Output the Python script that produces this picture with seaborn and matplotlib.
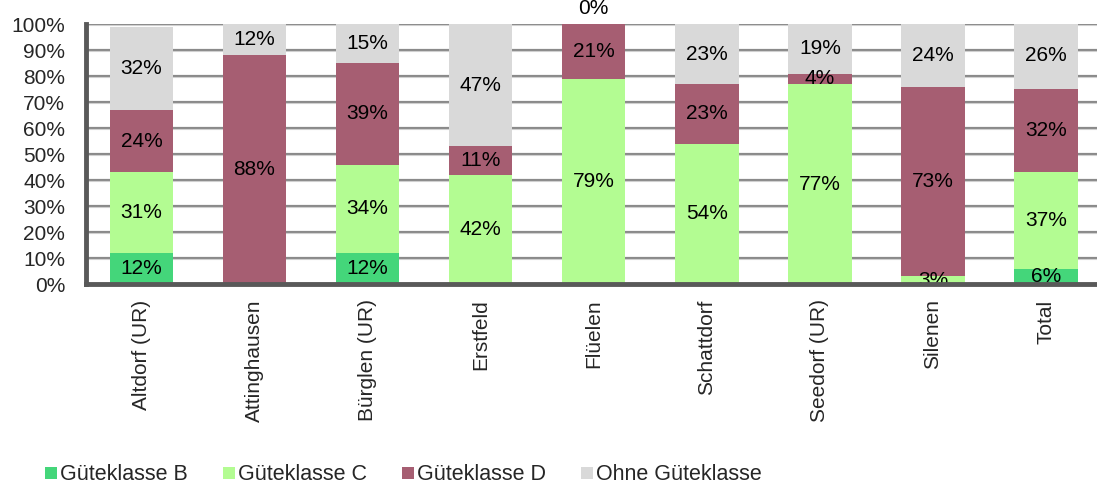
import numpy as np
import pandas as pd
import matplotlib
matplotlib.use("Agg")
import matplotlib.pyplot as plt
import seaborn as sns
from matplotlib.patches import Patch

# Gemeinden und Anteile je Güteklasse (in %)
gemeinden = ["Altdorf (UR)", "Attinghausen", "Bürglen (UR)", "Erstfeld", "Flüelen",
             "Schattdorf", "Seedorf (UR)", "Silenen", "Total"]
klasse_b = [12, 0, 12, 0, 0, 0, 0, 0, 6]
klasse_c = [31, 0, 34, 42, 79, 54, 77, 3, 37]
klasse_d = [24, 88, 39, 11, 21, 23, 4, 73, 32]
ohne = [32, 12, 15, 47, 0, 23, 19, 24, 26]

serien = ["Güteklasse B", "Güteklasse C", "Güteklasse D", "Ohne Güteklasse"]
werte = [klasse_b, klasse_c, klasse_d, ohne]
farben = ["#44d67a", "#b3fc92", "#a65e72", "#d9d9d9"]

sns.set_theme(style="white")
plt.rcParams["font.family"] = ["Liberation Sans", "DejaVu Sans"]

FS = 15

fig = plt.figure(figsize=(10.97, 4.84), dpi=100)
ax = fig.add_axes([0.0784, 0.413, 0.9216, 0.537])

# horizontal grid lines behind the bars
for v in range(10, 101, 10):
    ax.axhline(v, color="#8a8a8a", lw=1.6, zorder=0)
    ax.axhline(v - 0.5, color="#d0d0d0", lw=0.8, zorder=0)

bottom = np.zeros(len(gemeinden))
for name, vals, col in zip(serien, werte, farben):
    vals = np.array(vals, dtype=float)
    df = pd.DataFrame({"Gemeinde": gemeinden, "Anteil": vals})
    sns.barplot(data=df, x="Gemeinde", y="Anteil", bottom=bottom, color=col,
                width=0.56, saturation=1, ax=ax, zorder=2, edgecolor="none")
    for i, v in enumerate(vals):
        if v > 0:
            y = bottom[i] + v / 2
        elif name == "Ohne Güteklasse":
            y = bottom[i] + 6
        else:
            continue
        ax.text(i, y, f"{int(v)}%", ha="center", va="center", fontsize=FS,
                color="black", zorder=3, clip_on=False)
    bottom += vals

ax.set_ylim(0, 100)
ax.set_xlim(-0.49, 8.45)
ax.set_yticks(range(0, 101, 10))
ax.set_yticklabels([f"{v}%" for v in range(0, 101, 10)], fontsize=FS)
ax.set_xticks(range(len(gemeinden)))
ax.set_xticklabels(gemeinden, rotation=90, fontsize=FS)
ax.tick_params(axis="y", length=0, pad=15)
ax.tick_params(axis="x", length=0, pad=11)
ax.set_xlabel("")
ax.set_ylabel("")

for s in ["top", "right"]:
    ax.spines[s].set_visible(False)
for s in ["left", "bottom"]:
    ax.spines[s].set_color("#595959")
    ax.spines[s].set_linewidth(3.5)
    ax.spines[s].set_zorder(4)

handles = [Patch(facecolor=c, edgecolor="none", label=n) for n, c in zip(serien, farben)]
fig.legend(handles=handles, loc="center left", bbox_to_anchor=(0.041, 0.019), ncol=4,
           frameon=False, fontsize=15.5, handlelength=0.56, handleheight=0.48,
           handletextpad=0.12, columnspacing=1.65, borderpad=0, borderaxespad=0)

fig.savefig("out.png", dpi=100)
